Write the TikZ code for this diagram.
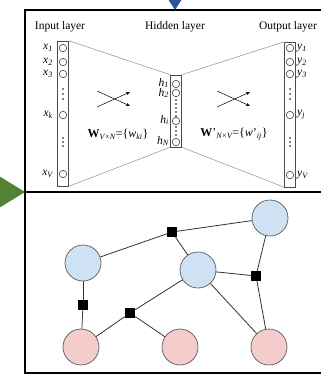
\documentclass[tikz,border=0pt]{standalone}
\usepackage{fontspec}
\setmainfont{Liberation Serif}
\usetikzlibrary{arrows.meta}
\definecolor{bluefill}{HTML}{CFE2F3}
\definecolor{pinkfill}{HTML}{F4CCCC}
\definecolor{greenarrow}{HTML}{548235}
\definecolor{bluearrow}{HTML}{2E5597}
\definecolor{edgecol}{HTML}{333333}
\definecolor{ringcol}{HTML}{595959}
\begin{document}
\begin{tikzpicture}[x=1pt,y=-1pt,
  frameline/.style={line width=2pt, black},
  colbox/.style={draw=black!70, line width=0.5pt, minimum width=11pt, inner sep=0pt},
  unitc/.style={circle, draw=black!85, line width=0.5pt, minimum size=7.5pt, inner sep=0pt},
  vdot/.style={circle, fill=black, minimum size=1.8pt, inner sep=0pt},
  xlbl/.style={font=\fontsize{11.5}{12}\selectfont\itshape, inner sep=0pt},
  hdr/.style={font=\fontsize{11.5}{12}\selectfont, inner sep=0pt},
  wlbl/.style={font=\fontsize{12}{13}\selectfont, inner sep=0pt},
  trap/.style={draw=black!45, line width=0.5pt},
  crossarr/.style={draw=black, line width=0.5pt, -{Stealth[length=4pt,width=3pt]}},
  bnode/.style={circle, draw=ringcol, line width=0.7pt, fill=bluefill, minimum size=36pt, inner sep=0pt},
  pnode/.style={circle, draw=ringcol, line width=0.7pt, fill=pinkfill, minimum size=36pt, inner sep=0pt},
  fnode/.style={rectangle, fill=black, minimum size=10pt, inner sep=0pt},
  gedge/.style={draw=edgecol, line width=0.8pt}
]
\useasboundingbox (0,0) rectangle (321,376);
% arrows
\fill[greenarrow] (25,192) -- (-1,176) -- (-1,208) -- cycle;
\fill[bluearrow] (175,10) -- (168,-1) -- (182,-1) -- cycle;
% frame
\draw[frameline] (25,10) rectangle (323,373);
\draw[frameline] (25,192) -- (323,192);

% headers
\node[hdr] (hin) at (60,27) {Input layer};
\node[hdr] (hhid) at (175,27) {Hidden layer};
\node[hdr] (hout) at (288,27) {Output layer};

% columns
\node[colbox, minimum height=145pt] (incol) at (63,113.5) {};
\node[colbox, minimum height=72pt] (hidcol) at (176,111) {};
\node[colbox, minimum height=145pt] (outcol) at (290,114.5) {};

\draw[trap] (incol.north east) -- (hidcol.north west);
\draw[trap] (incol.south east) -- (hidcol.south west);
\draw[trap] (hidcol.north east) -- (outcol.north west);
\draw[trap] (hidcol.south east) -- (outcol.south west);

% input units
\node[unitc] (x1) at (63,48) {};
\node[unitc] (x2) at (63,62) {};
\node[unitc] (x3) at (63,74) {};
\node[unitc] (xk) at (63,115) {};
\node[unitc] (xv) at (63,174) {};
\node[vdot] (xd1) at (63,89) {};
\node[vdot] (xd2) at (63,94) {};
\node[vdot] (xd3) at (63,99) {};
\node[vdot] (xd4) at (63,138) {};
\node[vdot] (xd5) at (63,142) {};
\node[vdot] (xd6) at (63,146) {};
\node[xlbl, anchor=east] (lx1) at (53,48) {x\textsubscript{1}};
\node[xlbl, anchor=east] (lx2) at (53,62) {x\textsubscript{2}};
\node[xlbl, anchor=east] (lx3) at (53,74) {x\textsubscript{3}};
\node[xlbl, anchor=east] (lxk) at (53,115) {x\textsubscript{k}};
\node[xlbl, anchor=east] (lxv) at (53,174) {x\textsubscript{V}};

% hidden units
\node[unitc] (h1) at (176,84) {};
\node[unitc] (h2) at (176,93) {};
\node[unitc] (hi) at (176,121) {};
\node[unitc] (hn) at (176,142) {};
\node[vdot] (hd1) at (176,100) {};
\node[vdot] (hd2) at (176,104) {};
\node[vdot] (hd3) at (176,108) {};
\node[vdot] (hd4) at (176,112) {};
\node[vdot] (hd5) at (176,116) {};
\node[vdot] (hd6) at (176,127) {};
\node[vdot] (hd7) at (176,131) {};
\node[vdot] (hd8) at (176,135) {};
\node[xlbl, anchor=east] (lh1) at (169,83) {h\textsubscript{1}};
\node[xlbl, anchor=east] (lh2) at (169,93) {h\textsubscript{2}};
\node[xlbl, anchor=east] (lhi) at (169,120) {h\textsubscript{i}};
\node[xlbl, anchor=east] (lhn) at (169,141) {h\textsubscript{N}};

% output units
\node[unitc] (y1) at (290,48) {};
\node[unitc] (y2) at (290,62) {};
\node[unitc] (y3) at (290,74) {};
\node[unitc] (yj) at (290,115) {};
\node[unitc] (yv) at (290,175) {};
\node[vdot] (yd1) at (290,89) {};
\node[vdot] (yd2) at (290,94) {};
\node[vdot] (yd3) at (290,99) {};
\node[vdot] (yd4) at (290,138) {};
\node[vdot] (yd5) at (290,142) {};
\node[vdot] (yd6) at (290,146) {};
\node[xlbl, anchor=west] (ly1) at (297,48) {y\textsubscript{1}};
\node[xlbl, anchor=west] (ly2) at (297,62) {y\textsubscript{2}};
\node[xlbl, anchor=west] (ly3) at (297,74) {y\textsubscript{3}};
\node[xlbl, anchor=west] (lyj) at (297,115) {y\textsubscript{j}};
\node[xlbl, anchor=west] (lyv) at (297,175) {y\textsubscript{V}};

% crossing arrows
\coordinate (la1) at (97,91);
\coordinate (la2) at (130,106);
\coordinate (lb1) at (97,107);
\coordinate (lb2) at (130,92);
\draw[crossarr] (la1) -- (la2);
\draw[crossarr] (lb1) -- (lb2);
\coordinate (ra1) at (217,91);
\coordinate (ra2) at (250,106);
\coordinate (rb1) at (217,107);
\coordinate (rb2) at (250,92);
\draw[crossarr] (ra1) -- (ra2);
\draw[crossarr] (rb1) -- (rb2);

% weight labels
\node[wlbl] (wleft) at (118,134) {\textbf{W}\textsubscript{\itshape V×N}=\{\textit{w}\textsubscript{\itshape ki}\}};
\node[wlbl] (wright) at (234,134) {\textbf{W}'\textsubscript{\itshape N×V}=\{\textit{w}'\textsubscript{\itshape ij}\}};

% bottom graph
\node[bnode] (b1) at (83,263) {};
\node[bnode] (b2) at (198,270) {};
\node[bnode] (b3) at (270,218) {};
\node[pnode] (p1) at (81,347) {};
\node[pnode] (p2) at (180,347) {};
\node[pnode] (p3) at (269,347) {};
\node[fnode] (s1) at (172,232) {};
\node[fnode] (s2) at (83,305) {};
\node[fnode] (s3) at (130,313) {};
\node[fnode] (s4) at (256,276) {};
\draw[gedge] (b1) -- (s1);
\draw[gedge] (s1) -- (b3);
\draw[gedge] (s1) -- (b2);
\draw[gedge] (b2) -- (s4);
\draw[gedge] (b3) -- (s4);
\draw[gedge] (s4) -- (p3);
\draw[gedge] (b2) -- (p3);
\draw[gedge] (b2) -- (s3);
\draw[gedge] (s3) -- (p1);
\draw[gedge] (s3) -- (p2);
\draw[gedge] (b1) -- (s2);
\draw[gedge] (s2) -- (p1);
\end{tikzpicture}
\end{document}
